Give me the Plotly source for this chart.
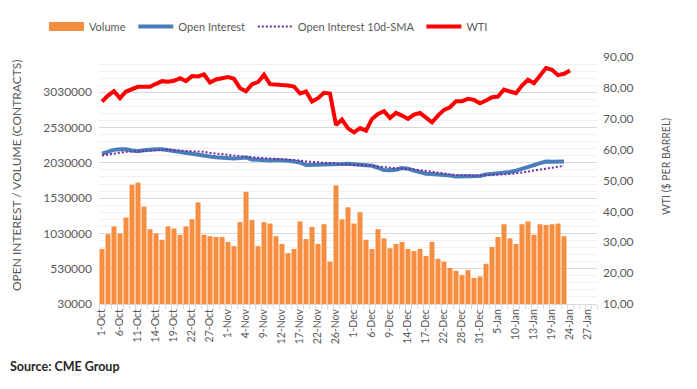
import plotly.graph_objects as go

# Trading-day categories (1-Oct-2021 .. 28-Jan-2022)
dates = (
    ["1-Oct", "4-Oct", "5-Oct", "6-Oct", "7-Oct", "8-Oct", "11-Oct", "12-Oct", "13-Oct", "14-Oct",
     "15-Oct", "18-Oct", "19-Oct", "20-Oct", "21-Oct", "22-Oct", "25-Oct", "26-Oct", "27-Oct", "28-Oct", "29-Oct"]
    + ["1-Nov", "2-Nov", "3-Nov", "4-Nov", "5-Nov", "8-Nov", "9-Nov", "10-Nov", "11-Nov", "12-Nov",
       "15-Nov", "16-Nov", "17-Nov", "18-Nov", "19-Nov", "22-Nov", "23-Nov", "24-Nov", "26-Nov", "29-Nov", "30-Nov"]
    + ["1-Dec", "2-Dec", "3-Dec", "6-Dec", "7-Dec", "8-Dec", "9-Dec", "10-Dec", "13-Dec", "14-Dec",
       "15-Dec", "16-Dec", "17-Dec", "20-Dec", "21-Dec", "22-Dec", "23-Dec", "27-Dec", "28-Dec", "29-Dec",
       "30-Dec", "31-Dec"]
    + ["3-Jan", "4-Jan", "5-Jan", "6-Jan", "7-Jan", "10-Jan", "11-Jan", "12-Jan", "13-Jan", "14-Jan",
       "18-Jan", "19-Jan", "20-Jan", "21-Jan", "24-Jan", "25-Jan", "26-Jan", "27-Jan", "28-Jan"]
)

tick_labels = ["1-Oct", "6-Oct", "11-Oct", "14-Oct", "19-Oct", "22-Oct", "27-Oct", "1-Nov", "4-Nov",
               "9-Nov", "12-Nov", "17-Nov", "22-Nov", "26-Nov", "1-Dec", "6-Dec", "9-Dec", "14-Dec",
               "17-Dec", "22-Dec", "28-Dec", "31-Dec", "5-Jan", "10-Jan", "13-Jan", "19-Jan",
               "24-Jan", "27-Jan"]

volume = [810000, 1020000, 1130000, 1030000, 1255000, 1720000, 1750000, 1410000, 1090000, 1030000,
          940000, 1130000, 1100000, 1010000, 1130000, 1230000, 1470000, 1010000, 990000, 980000,
          980000, 910000, 850000, 1190000, 1620000, 1220000, 850000, 1190000, 1170000, 990000,
          880000, 750000, 810000, 1200000, 950000, 1120000, 880000, 1160000, 630000, 1710000,
          1230000, 1400000, 1170000, 1330000, 940000, 810000, 1090000, 960000, 820000, 880000,
          910000, 810000, 780000, 810000, 710000, 910000, 670000, 630000, 540000, 500000,
          440000, 510000, 400000, 420000, 600000, 840000, 980000, 1160000, 960000, 880000,
          1160000, 1200000, 1010000, 1160000, 1150000, 1160000, 1170000, 990000]

open_interest = [2162000, 2195000, 2214000, 2223000, 2223000, 2205000, 2195000, 2209000, 2219000, 2223000,
                 2223000, 2209000, 2190000, 2181000, 2162000, 2153000, 2144000, 2134000, 2120000, 2111000,
                 2102000, 2097000, 2092000, 2097000, 2106000, 2078000, 2069000, 2060000, 2064000, 2069000,
                 2069000, 2060000, 2050000, 2036000, 1999000, 1994000, 2003000, 2008000, 2013000, 2022000,
                 2013000, 2017000, 2008000, 1994000, 1989000, 1989000, 1961000, 1928000, 1924000, 1933000,
                 1957000, 1947000, 1919000, 1896000, 1877000, 1872000, 1867000, 1858000, 1849000, 1835000,
                 1839000, 1839000, 1839000, 1844000, 1867000, 1872000, 1881000, 1891000, 1900000, 1919000,
                 1942000, 1971000, 1999000, 2027000, 2050000, 2045000, 2050000, 2050000]

oi_sma10 = [2134000, 2148000, 2162000, 2172000, 2186000, 2190000, 2195000, 2205000, 2209000, 2214000,
            2219000, 2219000, 2209000, 2205000, 2200000, 2195000, 2190000, 2186000, 2172000, 2162000,
            2148000, 2139000, 2130000, 2125000, 2116000, 2111000, 2102000, 2097000, 2092000, 2088000,
            2083000, 2078000, 2074000, 2064000, 2050000, 2045000, 2036000, 2031000, 2031000, 2020000,
            2008000, 2008000, 2003000, 1999000, 1994000, 1989000, 1980000, 1971000, 1961000, 1957000,
            1952000, 1947000, 1938000, 1928000, 1914000, 1905000, 1896000, 1881000, 1867000, 1858000,
            1853000, 1849000, 1849000, 1849000, 1853000, 1853000, 1858000, 1863000, 1872000, 1881000,
            1896000, 1910000, 1924000, 1938000, 1952000, 1961000, 1975000, 1989000]

wti = [75.56, 77.52, 78.93, 76.66, 78.82, 79.47, 80.34, 80.34, 80.34, 81.31,
       82.18, 81.96, 82.29, 83.15, 82.18, 83.81, 83.70, 84.35, 81.75, 82.72,
       83.15, 83.48, 82.94, 79.90, 78.93, 81.20, 81.85, 84.24, 81.20, 81.10,
       80.77, 80.77, 80.45, 78.17, 78.82, 75.56, 76.66, 78.39, 78.17, 67.99,
       69.72, 66.91, 65.61, 66.96, 66.15, 69.94, 71.57, 72.43, 70.27, 71.89,
       71.02, 69.94, 71.35, 71.89, 70.37, 68.86, 71.02, 72.87, 73.73, 75.68,
       75.68, 76.44, 76.11, 75.03, 75.90, 76.98, 77.20, 79.47, 78.82, 78.28,
       80.77, 82.61, 81.53, 84.02, 86.40, 85.86, 84.13, 84.56, 85.64]

left_ticks = [30000, 530000, 1030000, 1530000, 2030000, 2530000, 3030000]
right_ticks = [10, 20, 30, 40, 50, 60, 70, 80, 90]

FONT = "Lato"
GRAY = "#595959"
ORANGE = "#F68D3F"
PAD = "&nbsp;"

minor_vals = [v for v in range(130000, 3530000, 100000) if (v - 30000) % 500000 != 0]

fig = go.Figure()
fig.add_trace(go.Bar(x=dates[:len(volume)], y=volume, name="Volume", legendgroup="vol",
                     showlegend=False, marker=dict(color=ORANGE, line=dict(width=0))))
# legend proxy for the volume bars (wide flat swatch as in the original)
fig.add_trace(go.Scatter(x=[None], y=[None], name="Volume" + PAD, legendgroup="vol",
                         mode="lines", line=dict(color=ORANGE, width=9)))
fig.add_trace(go.Scatter(x=dates[:len(open_interest)], y=open_interest, name="Open Interest" + PAD,
                         mode="lines", line=dict(color="#4A7EBB", width=4)))
fig.add_trace(go.Scatter(x=dates[:len(oi_sma10)], y=oi_sma10, name="Open Interest 10d-SMA" + PAD,
                         mode="lines", line=dict(color="#7030A0", width=2, dash="2px,2px")))
fig.add_trace(go.Scatter(x=dates[:len(wti)], y=wti, name="WTI", yaxis="y2",
                         mode="lines", line=dict(color="#FF0000", width=4)))

fig.update_layout(
    width=697, height=389,
    margin=dict(l=99, r=100, t=57, b=85, autoexpand=False),
    paper_bgcolor="white", plot_bgcolor="white",
    font=dict(family=FONT, color=GRAY, size=12),
    bargap=0.17,
    showlegend=True,
    legend=dict(orientation="h", x=(44 - 99) / 498, xanchor="left", y=(304 - 12) / 247, yanchor="top",
                font=dict(size=11, color=GRAY), itemwidth=35, traceorder="normal"),
    xaxis=dict(type="category", categoryorder="array", categoryarray=dates,
               range=[-0.5, len(dates) - 0.5],
               tickmode="array", tickvals=dates,
               ticktext=[d if d in tick_labels else "" for d in dates],
               tickangle=-90, tickfont=dict(size=10.5, color=GRAY),
               ticks="outside", ticklen=4, tickcolor="#D9D9D9", tickson="boundaries",
               showline=True, linecolor="#D9D9D9", linewidth=1,
               showgrid=False, zeroline=False, fixedrange=True),
    yaxis=dict(range=[30000, 3530000], tickmode="array", tickvals=left_ticks,
               ticktext=[str(v) for v in left_ticks], tickfont=dict(size=12, color=GRAY),
               showgrid=True, gridcolor="#D9D9D9", gridwidth=1,
               minor=dict(tickmode="array", tickvals=minor_vals, showgrid=True,
                          gridcolor="#F0F0F0", gridwidth=1, ticks=""),
               zeroline=False, showline=False, ticks="", ticklabelstandoff=6),
    yaxis2=dict(range=[10, 90], overlaying="y", side="right", tickmode="array",
                tickvals=right_ticks, ticktext=[f"{v},00" for v in right_ticks],
                tickfont=dict(size=12, color=GRAY), showgrid=False, zeroline=False,
                showline=False, ticks="", ticklabelstandoff=5),
)

fig.add_annotation(text="OPEN INTEREST / VOLUME (CONTRACTS)", textangle=-90,
                   xref="paper", yref="paper", x=(16 - 99) / 498, y=(304 - 175) / 247,
                   xanchor="center", yanchor="middle", showarrow=False,
                   font=dict(size=12, color=GRAY))
fig.add_annotation(text="WTI ($ PER BARREL)", textangle=-90,
                   xref="paper", yref="paper", x=(666 - 99) / 498, y=(304 - 167) / 247,
                   xanchor="center", yanchor="middle", showarrow=False,
                   font=dict(size=10.5, color=GRAY))
fig.add_annotation(text="<b>Source: CME Group</b>", xref="paper", yref="paper",
                   x=(8 - 99) / 498, y=(304 - 366) / 247, xanchor="left", yanchor="middle",
                   showarrow=False, font=dict(size=12.5, color="#262626"))

fig.write_html("out.html", config={"displayModeBar": False, "staticPlot": True},
               post_script="document.body.style.margin='0';")
